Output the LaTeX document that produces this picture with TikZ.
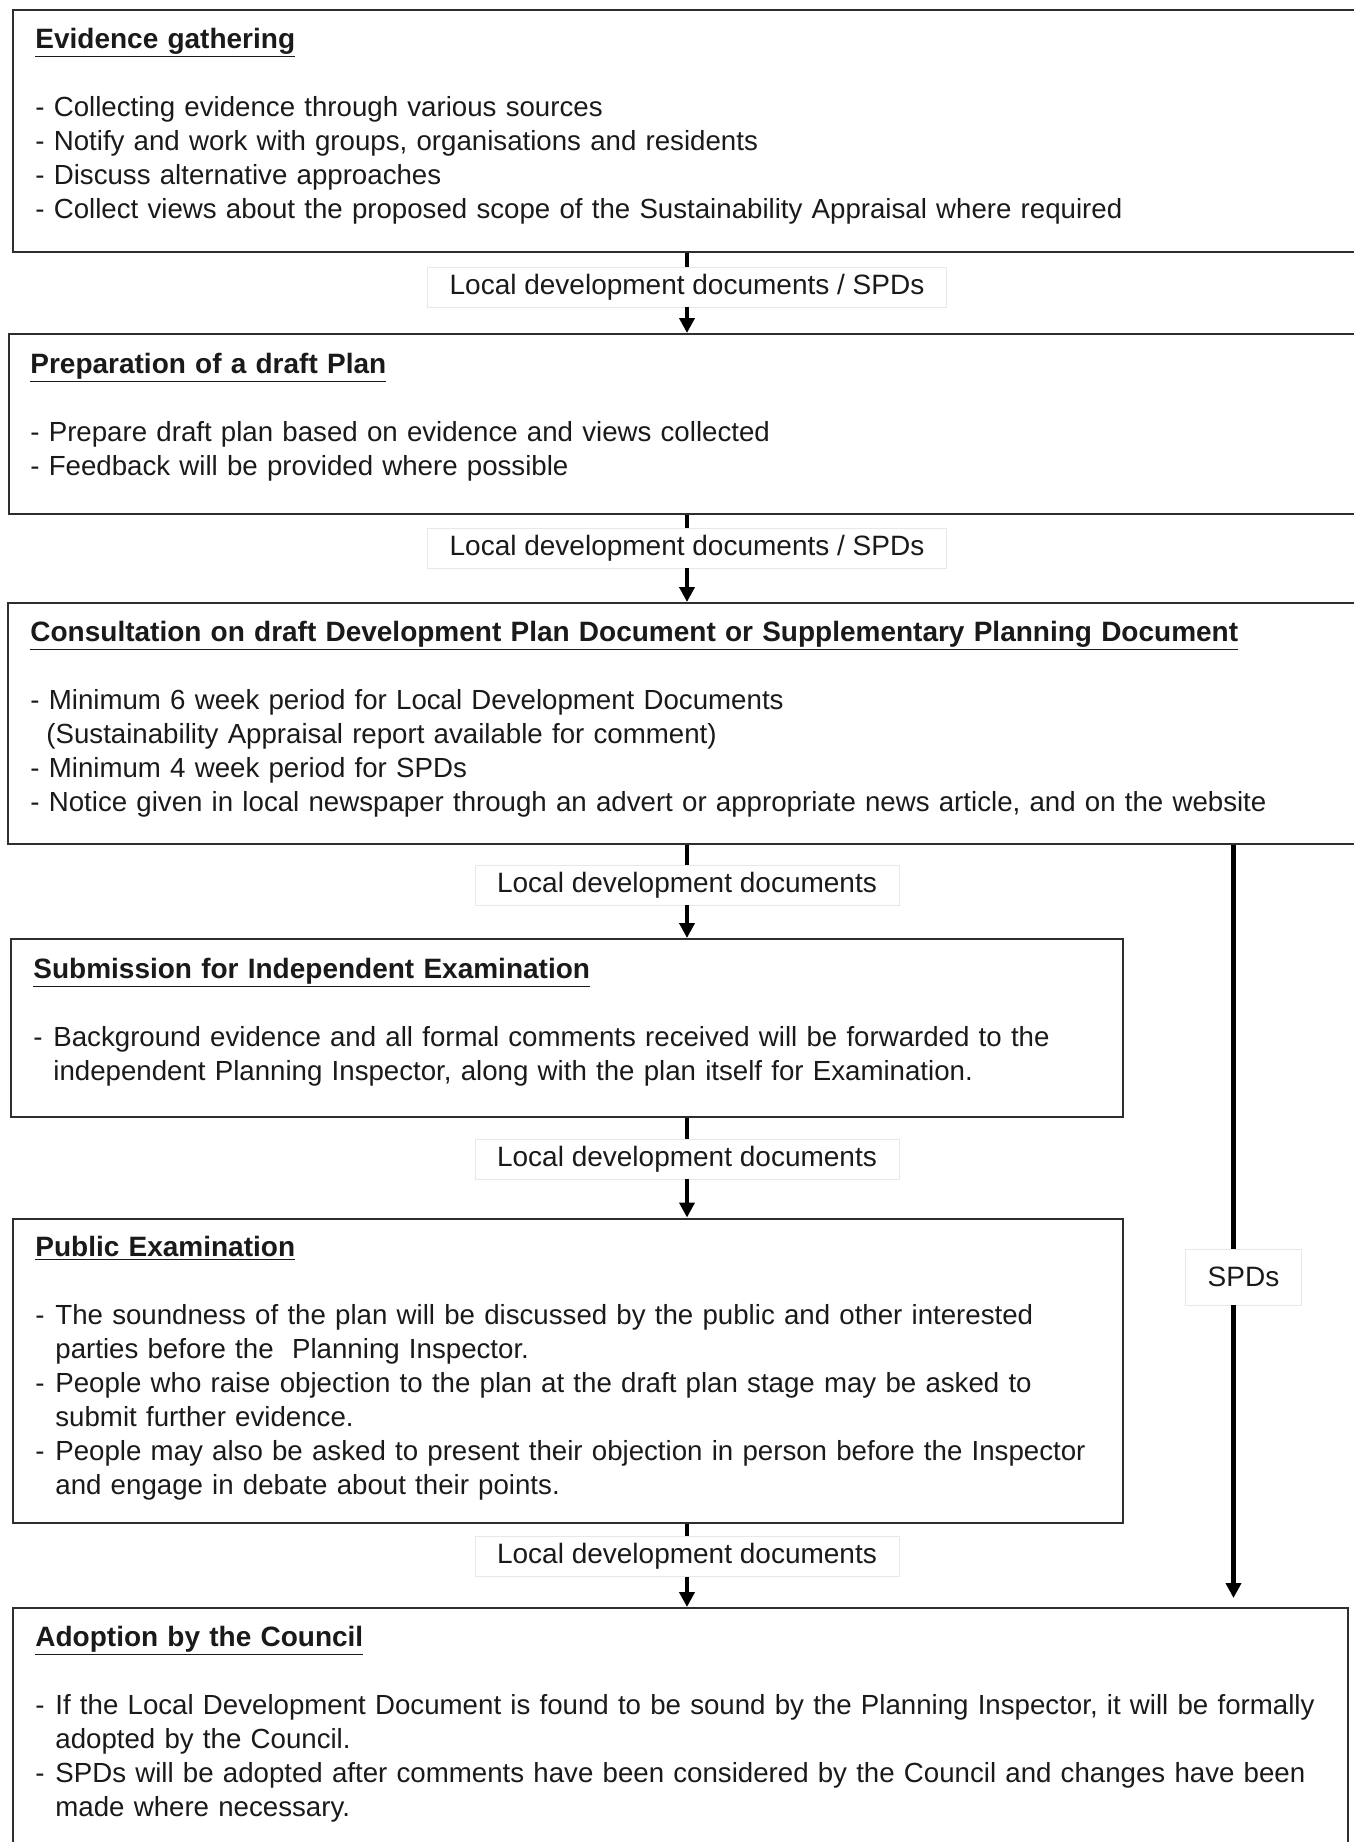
\documentclass[tikz,border=0pt]{standalone}
\usepackage{fontspec}
\setmainfont{Liberation Sans}
\usepackage{tikz}
\definecolor{ink}{HTML}{1A1A1A}
\definecolor{rim}{HTML}{2E2E2E}
\definecolor{gray100}{HTML}{E8E8E8}
\usetikzlibrary{arrows.meta}
\tikzstyle{stage}=[rectangle, draw=rim, line width=1pt, anchor=north west, inner sep=0pt]
\tikzstyle{stagetext}=[anchor=base west, inner sep=0pt, text width=660pt, align=left, text=ink, font=\fontsize{13.83pt}{17pt}\selectfont]
\tikzstyle{doclabel}=[rectangle, draw=gray100, fill=white, inner xsep=11pt, inner ysep=0pt, minimum height=20pt, text=ink, font=\fontsize{14pt}{17pt}\selectfont]
\tikzstyle{flow}=[draw=black, line width=2pt]
\tikzstyle{flowtip}=[flow, -{Triangle[length=7.5pt, width=7.5pt]}]
\newcommand{\itemdash}{\makebox[10pt][l]{-}}
\newcommand{\stagetitle}[1]{{\fontsize{14pt}{17pt}\selectfont\underline{\textbf{#1}}}}

\begin{document}
\begin{tikzpicture}[x=0.5pt, y=-0.5pt]
			\useasboundingbox (0,0) rectangle (1354,1842);
			\node[stage, minimum width=674pt, minimum height=121pt] (gather) at (12,8.5) {};
			\node[stage, minimum width=676pt, minimum height=90pt] (prep) at (8,333) {};
			\node[stage, minimum width=676.5pt, minimum height=120.5pt] (consult) at (7,602) {};
			\node[stage, minimum width=556pt, minimum height=89pt] (submit) at (10,938) {};
			\node[stage, minimum width=555pt, minimum height=152.25pt] (public) at (12,1217.5) {};
			\node[stage, minimum width=667.5pt, minimum height=130pt] (adopt) at (12,1607) {};
			\node[stagetext] (gathertext) at (35,48) {\stagetitle{Evidence gathering}\\[17pt]
				- Collecting evidence through various sources\\
				- Notify and work with groups, organisations and residents\\
				- Discuss alternative approaches\\
				- Collect views about the proposed scope of the Sustainability Appraisal where required};
			\node[stagetext] (preptext) at (30,373) {\stagetitle{Preparation of a draft Plan}\\[17pt]
				- Prepare draft plan based on evidence and views collected\\
				- Feedback will be provided where possible};
			\node[stagetext] (consulttext) at (30,641) {\stagetitle{Consultation on draft Development Plan Document or Supplementary Planning Document}\\[17pt]
				- Minimum 6 week period for Local Development Documents\\
				\hspace*{8pt}(Sustainability Appraisal report available for comment)\\
				- Minimum 4 week period for SPDs\\
				- Notice given in local newspaper through an advert or appropriate news article, and on the website};
			\node[stagetext] (submittext) at (33,978) {\stagetitle{Submission for Independent Examination}\\[17pt]
				\itemdash Background evidence and all formal comments received will be forwarded to the\\
				\hspace*{10pt}independent Planning Inspector, along with the plan itself for Examination.};
			\node[stagetext] (publictext) at (35,1256) {\stagetitle{Public Examination}\\[17pt]
				\itemdash The soundness of the plan will be discussed by the public and other interested\\
				\hspace*{10pt}parties before the\ \ Planning Inspector.\\
				\itemdash People who raise objection to the plan at the draft plan stage may be asked to\\
				\hspace*{10pt}submit further evidence.\\
				\itemdash People may also be asked to present their objection in person before the Inspector\\
				\hspace*{10pt}and engage in debate about their points.};
			\node[stagetext] (adopttext) at (35,1646) {\stagetitle{Adoption by the Council}\\[17pt]
				\itemdash If the Local Development Document is found to be sound by the Planning Inspector, it will be formally\\
				\hspace*{10pt}adopted by the Council.\\
				\itemdash SPDs will be adopted after comments have been considered by the Council and changes have been\\
				\hspace*{10pt}made where necessary.};
			\node[doclabel] (lbl1) at (687,287) {Local development documents / SPDs};
			\node[doclabel] (lbl2) at (687,548) {Local development documents / SPDs};
			\node[doclabel] (lbl3) at (687,885) {Local development documents};
			\node[doclabel] (lbl4) at (687,1159) {Local development documents};
			\node[doclabel] (lbl5) at (687,1556.5) {Local development documents};
			\node[doclabel, minimum height=28pt] (spds) at (1243.5,1277) {SPDs};
			\path[flow] (lbl1.north |- gather.south) -- (lbl1.north);
			\path[flowtip] (lbl1.south) -- (lbl1.south |- prep.north);
			\path[flow] (lbl2.north |- prep.south) -- (lbl2.north);
			\path[flowtip] (lbl2.south) -- (lbl2.south |- consult.north);
			\path[flow] (lbl3.north |- consult.south) -- (lbl3.north);
			\path[flowtip] (lbl3.south) -- (lbl3.south |- submit.north);
			\path[flow] (lbl4.north |- submit.south) -- (lbl4.north);
			\path[flowtip] (lbl4.south) -- (lbl4.south |- public.north);
			\path[flow] (lbl5.north |- public.south) -- (lbl5.north);
			\path[flowtip] (lbl5.south) -- (lbl5.south |- adopt.north);
			\path[flow, line width=2.5pt]
				([xshift=-5pt]spds.north |- consult.south) -- ([xshift=-5pt]spds.north);
			\path[flowtip, line width=2.5pt, shorten >=4.5pt]
				([xshift=-5pt]spds.south) -- ([xshift=-5pt]spds.south |- adopt.north);
		\end{tikzpicture}
\end{document}
